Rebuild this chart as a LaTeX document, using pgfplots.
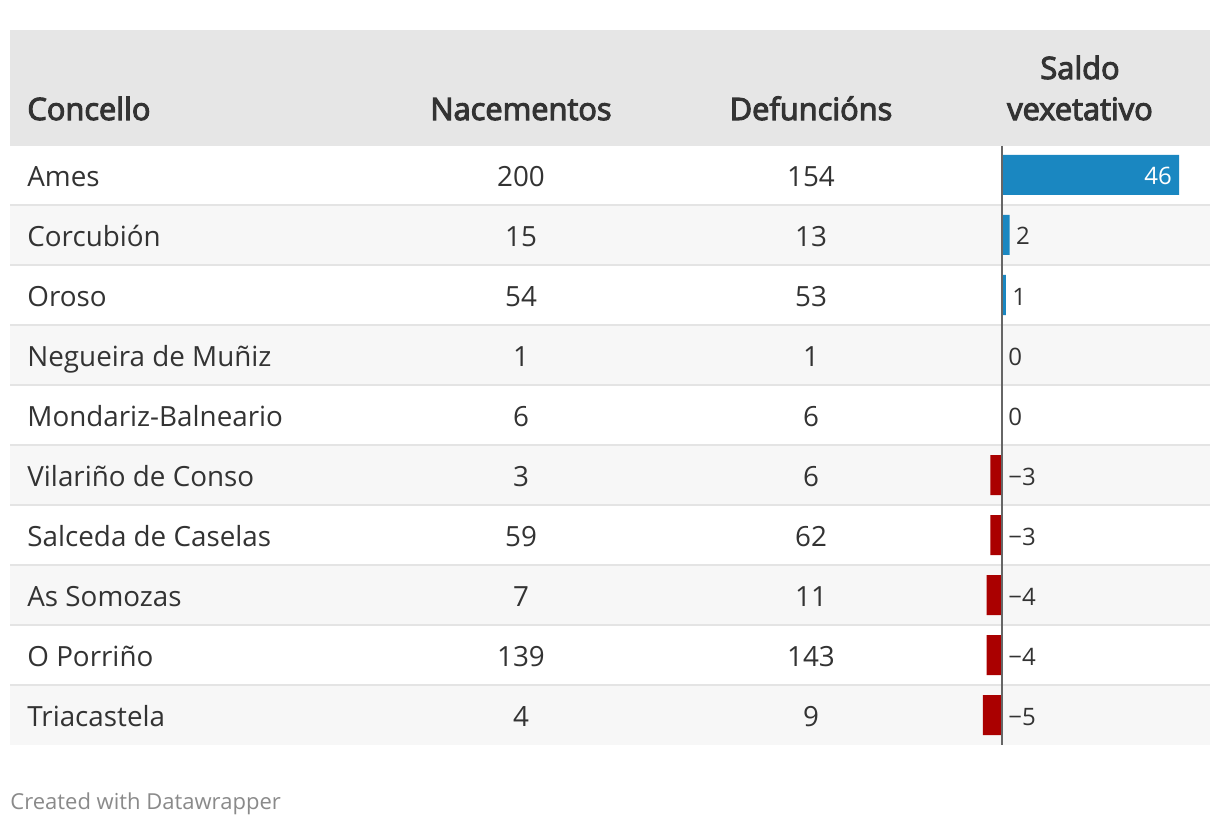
\documentclass[border=0pt]{standalone}
\usepackage{pgfplots}
\pgfplotsset{compat=1.18}
\usepackage{fontspec}
\setmainfont{Open Sans}
\newfontfamily\hfont[FakeBold=3.5]{Open Sans}
\definecolor{hdr}{HTML}{E6E6E6}
\definecolor{stripe}{HTML}{F7F7F7}
\definecolor{sep}{HTML}{E4E4E4}
\definecolor{txt}{HTML}{333333}
\definecolor{posbar}{HTML}{1A87C1}
\definecolor{negbar}{HTML}{AA0000}
\definecolor{zeroline}{HTML}{666666}
\definecolor{foot}{HTML}{8A8A8A}
\tikzset{
  body/.style={inner sep=0pt, text=txt, font=\fontsize{13.9}{16}\selectfont},
  head/.style={inner sep=0pt, text=txt, font=\hfont\fontsize{15.4}{20}\selectfont},
  val/.style={inner sep=0pt, text=txt, font=\fontsize{12}{14}\selectfont},
}
% one table row: index, name, births, deaths (y in pixel units, 60 per row)
\newcommand\trow[4]{%
  \node[body, anchor=base west] at (axis cs:27,{186+60*#1}) {#2};
  \node[body, anchor=base] at (axis cs:521,{186+60*#1}) {#3};
  \node[body, anchor=base] at (axis cs:811,{186+60*#1}) {#4};}
\begin{document}
\begin{tikzpicture}
\begin{axis}[name=bg, x=0.5pt, y=0.5pt, y dir=reverse,
  xmin=0, xmax=1220, ymin=0, ymax=824, hide axis, clip=false]
  \fill[white] (axis cs:0,0) rectangle (axis cs:1220,824);
  \fill[hdr] (axis cs:10,30) rectangle (axis cs:1210,146);
  \pgfplotsinvokeforeach{1,3,5,7,9}{
    \fill[stripe] (axis cs:10,{145+60*#1}) rectangle (axis cs:1210,{205+60*#1});}
  \pgfplotsinvokeforeach{1,...,9}{
    \draw[sep, line width=1pt] (axis cs:10,{145+60*#1}) -- (axis cs:1210,{145+60*#1});}
  \node[head, anchor=base west] at (axis cs:27,120) {Concello};
  \node[head, anchor=base] at (axis cs:521,120) {Nacementos};
  \node[head, anchor=base] at (axis cs:811,120) {Defuncións};
  \node[head, anchor=base] at (axis cs:1080,79) {Saldo};
  \node[head, anchor=base] at (axis cs:1080,120) {vexetativo};
  \trow{0}{Ames}{200}{154}
  \trow{1}{Corcubión}{15}{13}
  \trow{2}{Oroso}{54}{53}
  \trow{3}{Negueira de Muñiz}{1}{1}
  \trow{4}{Mondariz-Balneario}{6}{6}
  \trow{5}{Vilariño de Conso}{3}{6}
  \trow{6}{Salceda de Caselas}{59}{62}
  \trow{7}{As Somozas}{7}{11}
  \trow{8}{O Porriño}{139}{143}
  \trow{9}{Triacastela}{4}{9}
  \node[inner sep=0pt, text=foot, font=\fontsize{11}{13}\selectfont, anchor=base west]
    at (axis cs:10,809) {Created with Datawrapper};
\end{axis}
\begin{axis}[at={(bg.south west)}, anchor=south west, x=1.925pt, y=0.5pt,
  y dir=reverse, xmin=-260.26, xmax=56.62, ymin=0, ymax=824,
  hide axis, clip=false]
  \addplot[xbar, bar width=20pt, bar shift=0pt, fill=posbar, draw=none]
    coordinates {(46,175) (2,235) (1,295)};
  \addplot[xbar, bar width=20pt, bar shift=0pt, fill=negbar, draw=none]
    coordinates {(-3,475) (-3,535) (-4,595) (-4,655) (-5,715)};
  \draw[zeroline, line width=1pt] (axis cs:0,146) -- (axis cs:0,745);
  \node[val, text=white, anchor=base east, xshift=-3.5pt] at (axis cs:46,185) {46};
  \node[val, anchor=base west, xshift=3pt] at (axis cs:2,245) {2};
  \node[val, anchor=base west, xshift=3pt] at (axis cs:1,305) {1};
  \node[val, anchor=base west, xshift=3pt] at (axis cs:0,365) {0};
  \node[val, anchor=base west, xshift=3pt] at (axis cs:0,425) {0};
  \node[val, anchor=base west, xshift=3pt] at (axis cs:0,485) {−3};
  \node[val, anchor=base west, xshift=3pt] at (axis cs:0,545) {−3};
  \node[val, anchor=base west, xshift=3pt] at (axis cs:0,605) {−4};
  \node[val, anchor=base west, xshift=3pt] at (axis cs:0,665) {−4};
  \node[val, anchor=base west, xshift=3pt] at (axis cs:0,725) {−5};
\end{axis}
\end{tikzpicture}
\end{document}
